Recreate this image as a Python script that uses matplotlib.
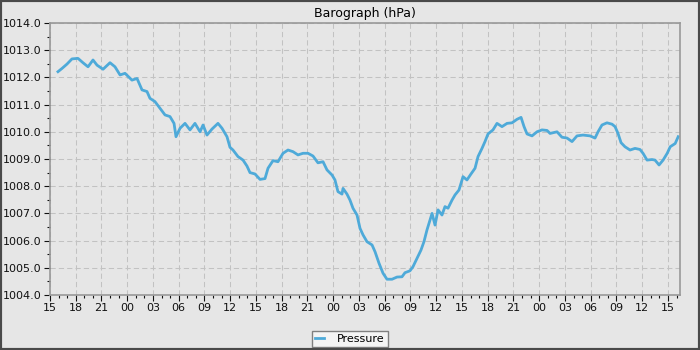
import pandas as pd
import matplotlib
matplotlib.use('Agg')
import matplotlib.pyplot as plt
import matplotlib.dates as mdates
from matplotlib.ticker import MultipleLocator, FormatStrFormatter
from matplotlib.patches import Rectangle

# Hours since the start of the window (15:00 on day one)
start = pd.Timestamp('2023-03-10 15:00')
hours = [0.93, 1.40, 1.98, 2.56, 3.26, 3.84, 4.43, 5.01, 5.48, 6.18, 6.99, 7.57,
         8.16, 8.74, 9.55, 10.14, 10.72, 11.30, 11.65, 12.23, 12.82, 13.40, 13.98,
         14.45, 14.68, 15.15, 15.73, 16.31, 16.89, 17.48, 17.83, 18.29, 18.87,
         19.57, 20.04, 20.62, 20.97, 21.32, 21.90, 22.49, 22.95, 23.30, 23.88,
         24.47, 25.05, 25.40, 25.98, 26.56, 27.15, 27.73, 28.31, 28.89, 29.48,
         30.06, 30.64, 31.22, 31.81, 32.27, 32.86, 33.20, 33.55, 34.02, 34.14,
         34.60, 34.95, 35.30, 35.77, 36.12, 36.47, 36.93, 37.52, 37.87, 38.33,
         38.80, 39.26, 39.85, 40.43, 41.01, 41.36, 41.94, 42.29, 42.76, 43.22,
         43.57, 43.92, 44.27, 44.51, 44.86, 45.21, 45.67, 46.02, 46.37, 46.84,
         47.19, 47.65, 48.12, 48.58, 49.05, 49.52, 49.87, 50.33, 50.68, 51.03,
         51.61, 52.08, 52.66, 53.25, 53.83, 54.41, 54.88, 55.23, 55.58, 56.16,
         56.74, 57.32, 57.91, 58.26, 59.07, 59.65, 60.24, 60.82, 61.40, 62.10,
         62.92, 63.50, 63.85, 64.31, 64.89, 65.48, 65.83, 66.18, 66.53, 66.99,
         67.58, 68.16, 68.74, 69.09, 69.56, 70.14, 70.49, 70.96, 71.43, 71.91,
         72.26, 72.84, 73.19]
pressure = [1012.21, 1012.33, 1012.49, 1012.68, 1012.70, 1012.54, 1012.39, 1012.64,
            1012.45, 1012.30, 1012.54, 1012.39, 1012.09, 1012.15, 1011.90, 1011.96,
            1011.54, 1011.48, 1011.23, 1011.11, 1010.86, 1010.62, 1010.56, 1010.31,
            1009.82, 1010.13, 1010.31, 1010.07, 1010.31, 1010.00, 1010.25, 1009.88,
            1010.10, 1010.31, 1010.13, 1009.82, 1009.43, 1009.33, 1009.09, 1008.96,
            1008.74, 1008.50, 1008.45, 1008.25, 1008.28, 1008.66, 1008.94, 1008.90,
            1009.21, 1009.33, 1009.27, 1009.15, 1009.21, 1009.21, 1009.11, 1008.86,
            1008.90, 1008.60, 1008.41, 1008.23, 1007.80, 1007.71, 1007.92, 1007.71,
            1007.49, 1007.19, 1006.94, 1006.45, 1006.21, 1005.96, 1005.84, 1005.59,
            1005.17, 1004.80, 1004.58, 1004.58, 1004.66, 1004.67, 1004.82, 1004.89,
            1005.04, 1005.35, 1005.65, 1005.96, 1006.39, 1006.76, 1007.00, 1006.57,
            1007.13, 1006.94, 1007.25, 1007.19, 1007.49, 1007.68, 1007.86, 1008.35,
            1008.23, 1008.45, 1008.66, 1009.09, 1009.39, 1009.64, 1009.92, 1010.07,
            1010.31, 1010.19, 1010.31, 1010.33, 1010.46, 1010.53, 1010.19, 1009.92,
            1009.85, 1010.00, 1010.07, 1010.05, 1009.94, 1010.00, 1009.80, 1009.77,
            1009.64, 1009.85, 1009.88, 1009.85, 1009.77, 1010.00, 1010.25, 1010.33,
            1010.28, 1010.19, 1009.94, 1009.60, 1009.45, 1009.33, 1009.39, 1009.35,
            1009.21, 1008.96, 1008.98, 1008.96, 1008.78, 1008.96, 1009.21, 1009.45,
            1009.57, 1009.82]
window_hours = 73.4

times = start + pd.to_timedelta(hours, unit='h')

bg = '#e6e6e6'
fig = plt.figure(figsize=(7, 3.5), dpi=100, facecolor=bg)
ax = fig.add_axes([50 / 700, 55 / 350, 630 / 700, 272 / 350])
ax.set_facecolor(bg)

ax.plot(times, pressure, color='#4eaad9', lw=2.0, label='Pressure')

ax.set_xlim(start, start + pd.Timedelta(hours=window_hours))
ax.set_ylim(1004, 1014)

ax.xaxis.set_major_locator(mdates.HourLocator(byhour=range(0, 24, 3)))
ax.xaxis.set_minor_locator(mdates.HourLocator())
ax.xaxis.set_major_formatter(mdates.DateFormatter('%H'))
ax.yaxis.set_major_locator(MultipleLocator(1))
ax.yaxis.set_minor_locator(MultipleLocator(0.5))
ax.yaxis.set_major_formatter(FormatStrFormatter('%.1f'))

ax.grid(True, which='major', color='#c2c2c2', lw=0.75, linestyle=(0, (5, 3)))
ax.set_axisbelow(True)
for s in ax.spines.values():
    s.set_color('#999999')
    s.set_linewidth(1.2)
ax.tick_params(which='major', length=4, width=0.8, labelsize=8, colors='#111111', pad=2)
ax.tick_params(which='minor', length=2.5, width=0.8, colors='#111111')
ax.tick_params(axis='x', which='both', direction='out')

ax.set_title('Barograph (hPa)', fontsize=9, pad=4)

leg = fig.legend(loc='lower center', bbox_to_anchor=(0.5, -0.018), fontsize=8,
                 frameon=True, fancybox=False, handlelength=0.8, borderpad=0.3,
                 handletextpad=1.2, borderaxespad=0.8)
leg.get_frame().set_facecolor('#f4f4f4')
leg.get_frame().set_edgecolor('#808080')
leg.get_frame().set_alpha(1)

fig.patches.append(Rectangle((0, 0), 1, 1, transform=fig.transFigure, fill=False,
                             edgecolor='#4a4a4a', lw=3, zorder=10))

fig.savefig('out.png', dpi=100, facecolor=bg)
